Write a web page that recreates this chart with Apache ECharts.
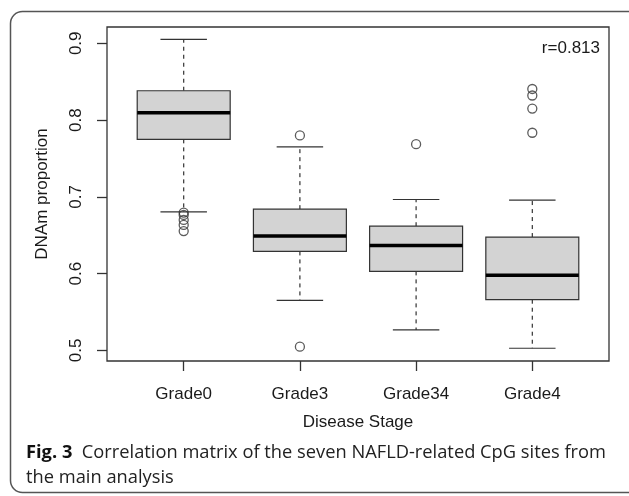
<!DOCTYPE html>
<html>
<head>
<meta charset="utf-8">
<script src="https://cdn.jsdelivr.net/npm/echarts@6/dist/echarts.min.js"></script>
<style>
  html, body { margin: 0; padding: 0; background: #fff; }
  #chart { width: 629px; height: 496px; }
</style>
</head>
<body>
<div id="chart"></div>
<script>
// Box plot data
const categories = ['Grade0', 'Grade3', 'Grade34', 'Grade4']
const lowerWhisker = [0.6805, 0.5652, 0.5267, 0.5029]
const q1 = [0.7749, 0.629, 0.603, 0.5661]
const median = [0.8095, 0.649, 0.6368, 0.5978]
const q3 = [0.8382, 0.684, 0.6618, 0.6477]
const upperWhisker = [0.9052, 0.765, 0.6966, 0.6957]

// Outliers: group index + value
const outlierGroup = [0, 0, 0, 0, 0, 1, 1, 2, 3, 3, 3, 3]
const outlierValue = [0.6795, 0.6765, 0.670, 0.6635, 0.6555, 0.780, 0.505, 0.7686, 0.8405, 0.832, 0.815, 0.7835]

const yTicks = [0.5, 0.6, 0.7, 0.8, 0.9]

const chart = echarts.init(document.getElementById('chart'))

const boxData = categories.map((c, i) => [i + 1, lowerWhisker[i], q1[i], median[i], q3[i], upperWhisker[i]])

function renderBox(params, api) {
  const x = api.value(0)
  const lo = api.coord([x, api.value(1)])
  const b1 = api.coord([x, api.value(2)])
  const md = api.coord([x, api.value(3)])
  const b3 = api.coord([x, api.value(4)])
  const hi = api.coord([x, api.value(5)])
  const half = api.size([0.4, 0])[0]
  const cap = half / 2
  const cx = lo[0]
  const dash = { stroke: '#333', lineWidth: 1.2, lineDash: [4, 4] }
  const solid = { stroke: '#333', lineWidth: 1.2 }
  return {
    type: 'group',
    children: [
      { type: 'line', shape: { x1: cx, y1: b3[1], x2: cx, y2: hi[1] }, style: dash },
      { type: 'line', shape: { x1: cx, y1: b1[1], x2: cx, y2: lo[1] }, style: dash },
      { type: 'line', shape: { x1: cx - cap, y1: hi[1], x2: cx + cap, y2: hi[1] }, style: solid },
      { type: 'line', shape: { x1: cx - cap, y1: lo[1], x2: cx + cap, y2: lo[1] }, style: solid },
      { type: 'rect', shape: { x: cx - half, y: b3[1], width: half * 2, height: b1[1] - b3[1] },
        style: { fill: '#d3d3d3', stroke: '#333', lineWidth: 1.2 } },
      { type: 'line', shape: { x1: cx - half, y1: md[1], x2: cx + half, y2: md[1] },
        style: { stroke: '#000', lineWidth: 3.5 } }
    ]
  }
}

const labelFont = { color: '#1a1a1a', fontSize: 17, fontFamily: 'Liberation Sans, Arial, sans-serif' }

chart.setOption({
  animation: false,
  backgroundColor: '#fff',
  grid: {
    left: 107, right: 20, top: 27, bottom: 135,
    show: true, borderColor: '#333', borderWidth: 1.3, backgroundColor: 'transparent'
  },
  xAxis: {
    type: 'value',
    min: 0.34,
    max: 4.66,
    name: 'Disease Stage',
    nameLocation: 'middle',
    nameGap: 53,
    nameTextStyle: labelFont,
    axisLine: { show: false },
    splitLine: { show: false },
    axisTick: { show: true, length: 10, customValues: [1, 2, 3, 4], lineStyle: { color: '#333', width: 1.3 } },
    axisLabel: {
      ...labelFont,
      customValues: [1, 2, 3, 4],
      margin: 25,
      formatter: v => categories[Math.round(v) - 1]
    }
  },
  yAxis: {
    type: 'value',
    min: 0.4863,
    max: 0.9212,
    name: 'DNAm proportion',
    nameLocation: 'middle',
    nameGap: 56,
    nameRotate: 90,
    nameTextStyle: labelFont,
    axisLine: { show: false },
    splitLine: { show: false },
    axisTick: { show: true, length: 10, customValues: yTicks, lineStyle: { color: '#333', width: 1.3 } },
    axisLabel: {
      ...labelFont,
      customValues: yTicks,
      rotate: 90,
      margin: 22,
      formatter: v => v.toFixed(1)
    }
  },
  graphic: [
    {
      type: 'rect',
      shape: { x: 10.5, y: 11.5, width: 640, height: 481, r: 12 },
      style: { fill: 'none', stroke: '#555', lineWidth: 1.5 },
      silent: true
    },
    {
      type: 'text',
      right: 29,
      top: 40,
      style: { text: 'r=0.813', fill: '#1a1a1a', font: '17px "Liberation Sans", Arial, sans-serif' }
    },
    {
      type: 'text',
      left: 26,
      top: 440,
      style: {
        text: '{b|Fig. 3}  Correlation matrix of the seven NAFLD-related CpG sites from\nthe main analysis',
        fill: '#222',
        font: '18.3px "Open Sans", sans-serif',
        lineHeight: 25,
        rich: {
          b: { fontWeight: 'bold', fontSize: 18.3, fontFamily: 'Open Sans', fill: '#111', lineHeight: 25 }
        }
      }
    }
  ],
  series: [
    {
      type: 'custom',
      renderItem: renderBox,
      encode: { x: 0, y: [1, 2, 3, 4, 5] },
      data: boxData
    },
    {
      type: 'scatter',
      symbol: 'circle',
      symbolSize: 9,
      itemStyle: { color: 'rgba(255,255,255,0)', borderColor: '#333', borderWidth: 1.3 },
      data: outlierGroup.map((g, i) => [g + 1, outlierValue[i]])
    }
  ]
})
</script>
</body>
</html>
